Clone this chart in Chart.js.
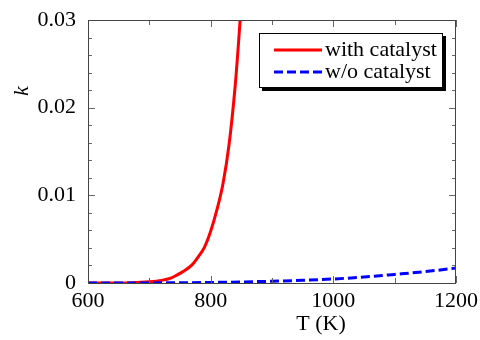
<!DOCTYPE html>
<html>
<head>
<meta charset="utf-8">
<script src="https://cdn.jsdelivr.net/npm/chart.js@4"></script>
<style>
  body { margin: 0; background: #fff; }
  canvas { display: block; }
</style>
</head>
<body>
<canvas id="chart" width="480" height="340"></canvas>
<script>
'use strict';

// temperatures (K) and rate constant
let catTemps = [600, 650, 700, 720, 735, 745, 755, 770, 780, 790, 800, 810, 820, 830, 840, 845, 850];
let catK = [0, 0, 0.00015, 0.0003, 0.00055, 0.0009, 0.0013, 0.0021, 0.003, 0.0041, 0.0059, 0.0083, 0.0113, 0.0158, 0.0225, 0.027, 0.032];

let noCatTemps = [600, 700, 800, 850, 900, 950, 1000, 1050, 1100, 1150, 1200];
let noCatK = [0, 0.00001, 0.00006, 0.00012, 0.0002, 0.00031, 0.00046, 0.00068, 0.00098, 0.0013, 0.0017];

let labels = ['with catalyst', 'w/o catalyst'];
let xTicks = [600, 800, 1000, 1200];
let yTicks = [0, 0.01, 0.02, 0.03];

const serif = '"Liberation Serif", "Times New Roman", serif';

function toPoints(xs, ys) {
  let pts = [];
  for (let i = 0; i < xs.length; i++) {
    pts.push({ x: xs[i], y: ys[i] });
  }
  return pts;
}

// frame, inward ticks, axis titles and the boxed legend
const decorations = {
  id: 'decorations',
  afterDraw(chart) {
    const ctx = chart.ctx;
    const a = chart.chartArea;
    const xs = chart.scales.x;
    const ys = chart.scales.y;
    ctx.save();

    ctx.strokeStyle = '#666';
    ctx.lineWidth = 1;
    // x ticks every 100, longer on 200s
    for (let t = 600; t <= 1200; t += 100) {
      let px = Math.round(xs.getPixelForValue(t)) + 0.5;
      let len = (t % 200 === 0) ? 7 : 5;
      ctx.beginPath();
      ctx.moveTo(px, a.bottom); ctx.lineTo(px, a.bottom - len);
      ctx.moveTo(px, a.top); ctx.lineTo(px, a.top + len);
      ctx.stroke();
    }
    // y ticks every 0.002
    for (let i = 0; i <= 15; i++) {
      let py = Math.round(ys.getPixelForValue(i * 0.002)) + 0.5;
      let len = (i % 5 === 0) ? 7 : 4;
      ctx.beginPath();
      ctx.moveTo(a.left, py); ctx.lineTo(a.left + len, py);
      ctx.moveTo(a.right, py); ctx.lineTo(a.right - len, py);
      ctx.stroke();
    }
    ctx.strokeStyle = '#444';
    ctx.strokeRect(a.left + 0.5, a.top + 0.5, a.right - a.left - 1, a.bottom - a.top);

    // axis titles
    ctx.fillStyle = '#000';
    ctx.font = '22px ' + serif;
    ctx.textAlign = 'center';
    ctx.textBaseline = 'middle';
    ctx.fillText('T (K)', 321, 324);
    ctx.save();
    ctx.translate(22, 91);
    ctx.rotate(-Math.PI / 2);
    ctx.font = 'italic 22px ' + serif;
    ctx.fillText('k', 0, 0);
    ctx.restore();

    // legend box with shadow
    let bx = 259, by = 33, bw = 184, bh = 55;
    ctx.fillStyle = '#000';
    ctx.fillRect(bx + 3, by + 3, bw, bh);
    ctx.fillStyle = '#fff';
    ctx.fillRect(bx, by, bw, bh);
    ctx.strokeStyle = '#000';
    ctx.strokeRect(bx + 0.5, by + 0.5, bw - 1, bh - 1);

    const sets = chart.data.datasets;
    const rows = [50, 72];
    for (let i = 0; i < sets.length; i++) {
      ctx.strokeStyle = sets[i].borderColor;
      ctx.lineWidth = 3;
      ctx.setLineDash(sets[i].borderDash || []);
      ctx.beginPath();
      ctx.moveTo(274, rows[i]); ctx.lineTo(322, rows[i]);
      ctx.stroke();
      ctx.setLineDash([]);
      ctx.fillStyle = '#000';
      ctx.textAlign = 'left';
      ctx.fillText(sets[i].label, 325, rows[i]);
    }
    ctx.restore();
  }
};

const ctx = document.getElementById('chart');

new Chart(ctx, {
  type: 'line',
  data: {
    datasets: [
      {
        label: labels[0],
        data: toPoints(catTemps, catK),
        borderColor: '#ff0000',
        borderWidth: 3,
        pointRadius: 0,
        cubicInterpolationMode: 'monotone',
        order: 2,
      },
      {
        label: labels[1],
        data: toPoints(noCatTemps, noCatK),
        borderColor: '#0000ff',
        borderWidth: 3,
        borderDash: [9, 4],
        pointRadius: 0,
        cubicInterpolationMode: 'monotone',
        order: 1,
      },
    ],
  },
  options: {
    responsive: false,
    animation: false,
    layout: { padding: { left: 0, top: 20, right: 24, bottom: 0 } },
    plugins: { legend: { display: false }, tooltip: { enabled: false } },
    scales: {
      x: {
        type: 'linear',
        min: 600,
        max: 1200,
        afterBuildTicks: (s) => { s.ticks = xTicks.map(v => ({ value: v })); },
        afterFit: (s) => { s.height = 57; },
        grid: { display: false },
        border: { display: false },
        ticks: {
          color: '#000',
          padding: -3,
          maxRotation: 0,
          font: { family: serif, size: 22 },
          callback: (v) => String(v),
        },
      },
      y: {
        min: 0,
        max: 0.03,
        afterBuildTicks: (s) => { s.ticks = yTicks.map(v => ({ value: v })); },
        afterFit: (s) => { s.width = 88; },
        grid: { display: false },
        border: { display: false },
        ticks: {
          color: '#000',
          padding: 4,
          font: { family: serif, size: 22 },
          callback: (v) => String(Math.round(v * 100) / 100),
        },
      },
    },
  },
  plugins: [decorations],
});
</script>
</body>
</html>
